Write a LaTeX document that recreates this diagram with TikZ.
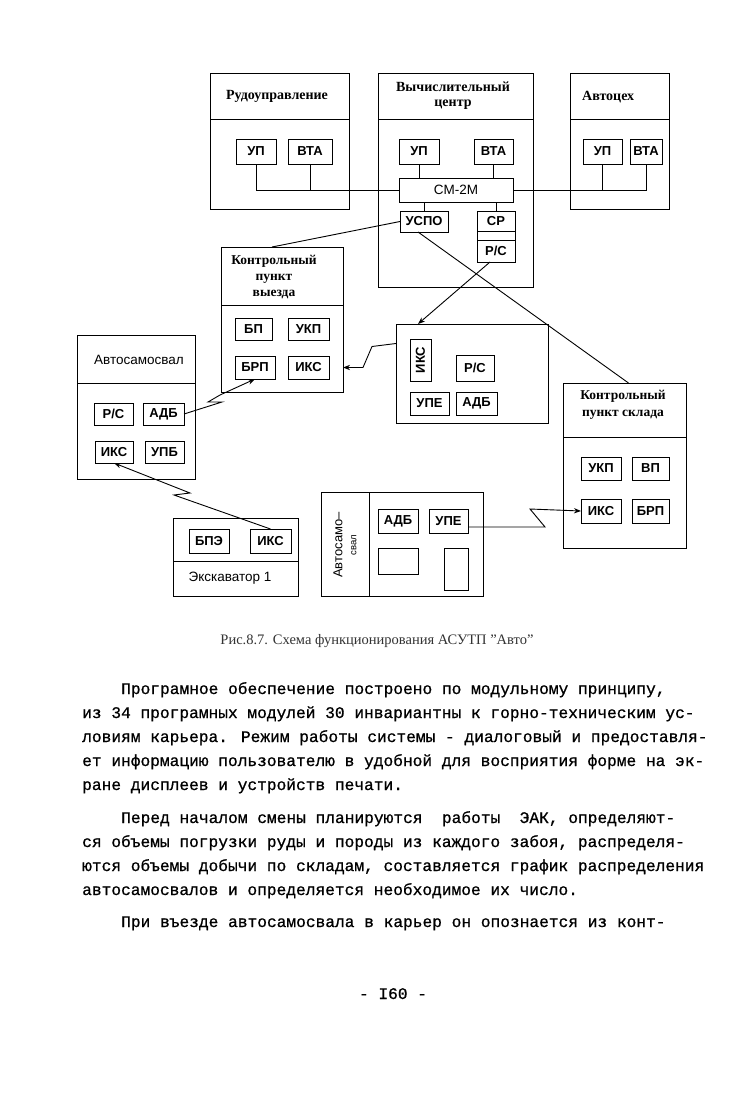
\documentclass[tikz,border=0pt]{standalone}
\usepackage{fontspec}
\setmainfont{Liberation Serif}
\newfontfamily\lsans{Liberation Sans}
\newfontfamily\typewr{Liberation Mono}[FakeBold=0.8]
\usetikzlibrary{arrows.meta,calc}

\tikzset{
  unitbox/.style 2 args={draw,line width=1pt,inner sep=0pt,outer sep=0pt,
    minimum width=#1pt,minimum height=#2pt},
  blk/.style 2 args={unitbox={#1}{#2},font=\lsans\bfseries\fontsize{13}{13}\selectfont},
  hdr/.style={inner sep=0pt,align=center,font=\bfseries\fontsize{14}{15}\selectfont},
  hdrlight/.style={inner sep=0pt,align=center,font=\lsans\fontsize{13.5}{15}\selectfont},
  link/.style={line width=0.9pt},
  para/.style={anchor=base west,inner sep=0pt,font=\typewr\fontsize{16.2}{24}\selectfont},
}

\begin{document}
\begin{tikzpicture}[x=1pt,y=-1pt,>=Stealth]

    \fill[white] (0,0) rectangle (728,1100);
    \useasboundingbox (0,0) rectangle (728,1100);

    % Рудоуправление
    \node[unitbox={139}{136}] (rudo) at (279.5,141) {};
    \draw[link] ([yshift=-46pt]rudo.north west) -- ([yshift=-46pt]rudo.north east);
    \node[hdr] (rudot) at (277,96) {Рудоуправление};
    \node[blk={40}{25}] (rup) at (256,151.5) {УП};
    \node[blk={44}{25}] (rvta) at (310,151.5) {ВТА};

    % Вычислительный центр
    \node[unitbox={155}{214}] (vc) at (455.5,180) {};
    \draw[link] ([yshift=-46pt]vc.north west) -- ([yshift=-46pt]vc.north east);
    \node[hdr] (vct) at (453,96) {Вычислительный\\центр};
    \node[blk={40}{25}] (vup) at (419,151.5) {УП};
    \node[blk={39}{25}] (vvta) at (493.5,151.5) {ВТА};
    \node[unitbox={114}{24},font=\lsans\fontsize{13.5}{13}\selectfont] (sm) at (456,190) {СМ-2М};
    \node[blk={48}{21}] (uspo) at (424,221.5) {УСПО};
    \node[blk={38}{20}] (sr) at (496,221) {СР};
    \node[blk={38}{22}] (vrs) at (496,251) {Р/С};
    \draw[link] (sr.south west) -- (vrs.north west);
    \draw[link] (sr.south east) -- (vrs.north east);

    % Автоцех
    \node[unitbox={99}{136}] (avto) at (619.5,141) {};
    \draw[link] ([yshift=-46pt]avto.north west) -- ([yshift=-46pt]avto.north east);
    \node[hdr,anchor=west] (avtot) at (582,97) {Автоцех};
    \node[blk={39}{25}] (aup) at (602.5,151.5) {УП};
    \node[blk={32}{25}] (avta) at (646,151.5) {ВТА};

    % Bus
    \draw[link] (rup.south) |- (sm.west);
    \draw[link] (rvta.south) -- (rvta.south |- sm.west);
    \draw[link] (vup.south) -- (vup.south |- sm.north);
    \draw[link] (vvta.south) -- (vvta.south |- sm.north);
    \draw[link] (uspo.north) -- (uspo.north |- sm.south);
    \draw[link] (sr.north) -- (sr.north |- sm.south);
    \draw[link] (sm.east) -| (avta.south);
    \draw[link] (aup.south) -- (aup.south |- sm.east);

    % Контрольный пункт выезда
    \node[unitbox={122}{145}] (kpv) at (282,319.5) {};
    \draw[link] ([yshift=-58pt]kpv.north west) -- ([yshift=-58pt]kpv.north east);
    \node[hdr,font=\bfseries\fontsize{13.5}{16}\selectfont] (kpvt) at (274,277) {Контрольный\\пункт\\выезда};
    \node[blk={37}{22}] (kbp) at (253.5,329) {БП};
    \node[blk={41}{22}] (kukp) at (308.5,329) {УКП};
    \node[blk={40}{23}] (kbrp) at (255,367.5) {БРП};
    \node[blk={41}{23}] (kiks) at (308.5,367.5) {ИКС};

    % Автосамосвал
    \node[unitbox={118}{144}] (asv) at (136,407) {};
    \draw[link] ([yshift=-48pt]asv.north west) -- ([yshift=-48pt]asv.north east);
    \node[hdrlight] (asvt) at (139,360) {Автосамосвал};
    \node[blk={39}{22}] (ars) at (113.5,414) {Р/С};
    \node[blk={41}{22}] (aadb) at (163.5,414) {АДБ};
    \node[blk={38}{22}] (aiks) at (114,452) {ИКС};
    \node[blk={39}{22}] (aupb) at (164.5,452) {УПБ};

    % Middle unit
    \node[unitbox={152}{99}] (mid) at (472,373.5) {};
    \node[blk={42}{21},rotate=90] (miks) at (420.5,360) {ИКС};
    \node[blk={38}{26}] (mrs) at (475,368) {Р/С};
    \node[blk={39}{23}] (mupe) at (429.5,403.5) {УПЕ};
    \node[blk={41}{23}] (madb) at (476.5,403.5) {АДБ};

    % Контрольный пункт склада
    \node[unitbox={123}{165}] (kps) at (624.5,465.5) {};
    \draw[link] ([yshift=-54pt]kps.north west) -- ([yshift=-54pt]kps.north east);
    \node[hdr,font=\bfseries\fontsize{13.5}{17}\selectfont] (kpst) at (623,405) {Контрольный\\пункт склада};
    \node[blk={40}{23}] (sukp) at (601,468.5) {УКП};
    \node[blk={37}{23}] (svp) at (650.5,468.5) {ВП};
    \node[blk={40}{24}] (siks) at (601,511) {ИКС};
    \node[blk={37}{24}] (sbrp) at (650.5,511) {БРП};

    % Экскаватор 1
    \node[unitbox={125}{78}] (exc) at (235.5,557) {};
    \draw[link] ([yshift=-43pt]exc.north west) -- ([yshift=-43pt]exc.north east);
    \node[hdrlight] (exct) at (230,578) {Экскаватор 1};
    \node[blk={40}{24}] (ebpe) at (209,541) {БПЭ};
    \node[blk={41}{24}] (eiks) at (270.5,541) {ИКС};

    % Автосамосвал (bottom)
    \node[unitbox={162}{104}] (bsv) at (402,544) {};
    \draw[link] ([xshift=48pt]bsv.north west) -- ([xshift=48pt]bsv.south west);
    \node[hdrlight,rotate=90,font=\lsans\fontsize{13}{14}\selectfont] (bsvt) at (345,545)
        {Автосамо–\\{\fontsize{9.5}{10}\selectfont свал}};
    \node[blk={40}{24}] (badb) at (398,521) {АДБ};
    \node[blk={39}{24}] (bupe) at (448.5,521) {УПЕ};
    \node[unitbox={40}{26}] (bema) at (398,561) {};
    \node[unitbox={24}{42}] (bemb) at (456,569) {};

    % Links
    \draw[link] (uspo.west) -- ([xshift=-10pt]kpv.north);
    \draw[link] ([xshift=-6pt]uspo.south) -- ([xshift=4pt]kps.north);
    \draw[link,->] ([xshift=-6pt]vrs.south) -- ([xshift=-54pt]mid.north);
    \draw[link,->] ([yshift=30pt]mid.west) -- ++(-24,3) -- ++(-9,21) -- (kpv.east |- kiks);
    \draw[link,->] (aadb.east) -- ++(38,-12) -- ++(-14,0) -- ++(12,-7) -- (kbrp.south);
    \draw[link,<-] (aiks.south) -- ++(76,30) -- ++(-16,2) -- (eiks.north);
    \draw[link,->] ([yshift=-6pt]bupe.east) -- ++(77,0) -- ++(-15,-18) -- (siks.west);

    % Caption and text
    \node[font=\fontsize{14.5}{16}\selectfont,text=black!80] (caption) at (377,641)
        {Рис.8.7. Схема функционирования АСУТП "Авто"};

    \node[para] (l1) at (121,694) {Програмное обеспечение построено по модульному принципу,};
    \node[para] (l2) at (82,718) {из 34 програмных модулей 30 инвариантны к горно-техническим ус-};
    \node[para] (l3) at (82,742) {ловиям карьера. Режим работы системы - диалоговый и предоставля-};
    \node[para] (l4) at (82,766) {ет информацию пользователю в удобной для восприятия форме на эк-};
    \node[para] (l5) at (82,790) {ране дисплеев и устройств печати.};
    \node[para] (l6) at (121,823) {Перед началом смены планируются~ работы~ ЭАК, определяют-};
    \node[para] (l7) at (82,847) {ся объемы погрузки руды и породы из каждого забоя, распределя-};
    \node[para] (l8) at (82,871) {ются объемы добычи по складам, составляется график распределения};
    \node[para] (l9) at (82,895) {автосамосвалов и определяется необходимое их число.};
    \node[para] (l10) at (121,927) {При въезде автосамосвала в карьер он опознается из конт-};
    \node[para,anchor=base] (pnum) at (393,999) {- I60 -};

\end{tikzpicture}
\end{document}
